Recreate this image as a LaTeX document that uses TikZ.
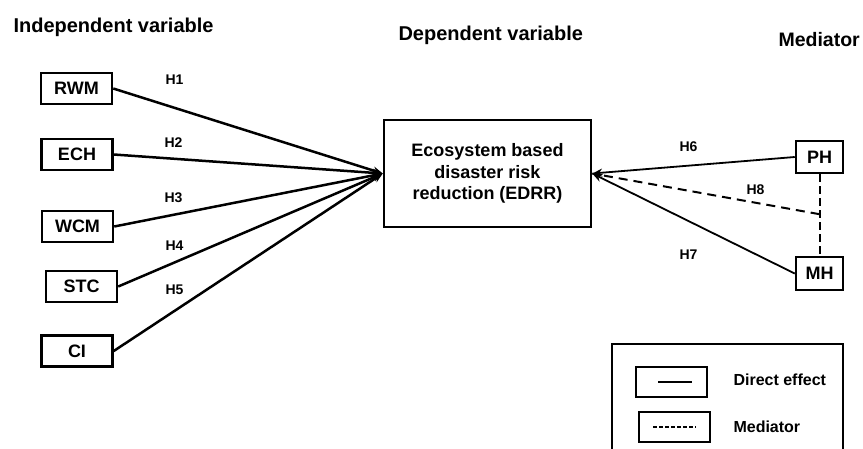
\documentclass[tikz,border=0pt]{standalone}
\usepackage{fontspec}
\setmainfont{Liberation Sans}
\usetikzlibrary{arrows.meta,calc}
\tikzset{varbox/.style = {draw, line width=2.5pt, inner sep=0pt,
    minimum width=71pt, minimum height=31pt,
    font=\fontsize{18}{18}\selectfont\bfseries},
  heading/.style = {anchor=base west, font=\fontsize{20}{20}\selectfont\bfseries},
  hyp/.style = {anchor=base west, font=\fontsize{14}{14}\selectfont\bfseries},
  direct/.style = {line width=2.5pt, -{Stealth[length=10pt,width=8pt]}},
  medline/.style = {line width=2pt, dash pattern=on 9pt off 6pt},
  legbox/.style = {draw, line width=2.5pt, inner sep=0pt,
    minimum width=71pt, minimum height=30pt}
}

\begin{document}
\begin{tikzpicture}[x=1pt,y=-1pt]
  \useasboundingbox (0,0) rectangle (863,448);
  \node[heading] (hind) at (10,32) {Independent variable};
  \node[heading] (hdep) at (395,40) {Dependent variable};
  \node[heading, font=\fontsize{19.5}{20}\selectfont\bfseries] (hmed) at (775,46) {Mediator};
  \node[varbox] (RWM) at (76.5,88.5) {RWM};
  \node[varbox] (ECH) at (77,154.5) {ECH};
  \node[varbox] (WCM) at (77.5,226.5) {WCM};
  \node[varbox] (STC) at (81.5,286.5) {STC};
  \node[varbox] (CI) at (77,351) {CI};
  \node[draw, line width=2.5pt, minimum width=207pt, minimum height=107pt,
        align=center, font=\fontsize{18}{21.5}\selectfont\bfseries]
    (EDRR) at (487.5,173.5) {Ecosystem based\\disaster risk\\reduction (EDRR)};
  \node[varbox, minimum width=47pt, minimum height=32pt] (PH) at (819.5,157) {PH};
  \node[varbox, minimum width=47pt, minimum height=33pt] (MH) at (819.5,273.5) {MH};
  \coordinate (mid) at ($(PH.south)!0.49!(MH.north)$);
  \draw[direct] (RWM.east) -- (EDRR.west);
  \draw[direct] (ECH.east) -- (EDRR.west);
  \draw[direct] (WCM.east) -- (EDRR.west);
  \draw[direct] (STC.east) -- (EDRR.west);
  \draw[direct] (CI.east) -- (EDRR.west);
  \draw[direct, line width=1.8pt] (PH.west) -- (EDRR.east);
  \draw[direct, line width=1.8pt] (MH.west) -- (EDRR.east);
  \draw[medline] (mid) -- (EDRR.east);
  \draw[medline, dash pattern=on 8pt off 4pt] (PH.south) -- (MH.north);
  \node[hyp] (h1) at (162,84) {H1};
  \node[hyp] (h2) at (161,147) {H2};
  \node[hyp] (h3) at (161,202) {H3};
  \node[hyp] (h4) at (162,250) {H4};
  \node[hyp] (h5) at (162,294) {H5};
  \node[hyp] (h6) at (676,151) {H6};
  \node[hyp] (h8) at (743,194) {H8};
  \node[hyp] (h7) at (676,259) {H7};
  % legend
  \node[draw, line width=2.5pt, minimum width=231pt, minimum height=110pt] (legend) at (727.5,399) {};
  \node[legbox] (ldir) at (671.5,382) {};
  \node[legbox] (lmed) at (674.5,427) {};
  \draw[line width=2.3pt] ([xshift=-13.5pt]ldir.center) -- ([xshift=20.5pt]ldir.center);
  \draw[line width=2pt, dash pattern=on 3.5pt off 2.5pt] ([xshift=-21.5pt]lmed.center) -- ([xshift=21.5pt]lmed.center);
  \node[hyp, font=\fontsize{16}{16}\selectfont\bfseries] (tdir) at (730,385) {Direct effect};
  \node[hyp, font=\fontsize{16}{16}\selectfont\bfseries] (tmed) at (730,432) {Mediator};
\end{tikzpicture}
\end{document}
